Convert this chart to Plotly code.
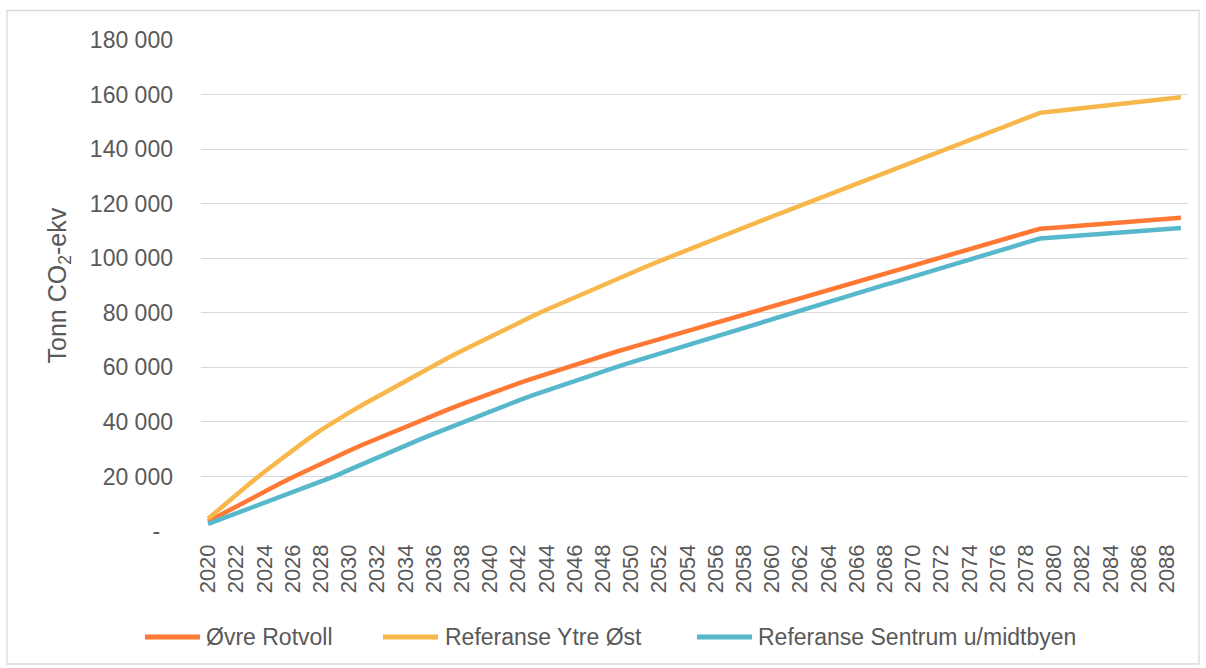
import plotly.graph_objects as go

# Years on the category axis
years = list(range(2020, 2090))

# Cumulative emissions, tonnes CO2-eq
ovre_rotvoll = [
    3500, 6300, 9100, 11800, 14500, 17100, 19700, 22200, 24700, 27100,
    29400, 31700, 33900, 36100, 38300, 40400, 42500, 44500, 46500, 48500,
    50400, 52300, 54100, 55900, 57600, 59300, 61000, 62600, 64200, 65800,
    67300, 68800, 70300, 71800, 73300, 74800, 76300, 77800, 79300, 80800,
    82300, 83800, 85300, 86800, 88300, 89800, 91300, 92800, 94300, 95800,
    97300, 98800, 100300, 101800, 103300, 104800, 106300, 107800, 109300, 110800,
    111200, 111600, 112000, 112400, 112800, 113200, 113600, 114000, 114400, 114800,
]
ref_ytre_ost = [
    4500, 9000, 13400, 17600, 21700, 25700, 29600, 33400, 37000, 40400,
    43400, 46400, 49300, 52200, 55100, 57900, 60700, 63400, 66100, 68700,
    71300, 73800, 76300, 78700, 81100, 83400, 85700, 88000, 90200, 92400,
    94600, 96800, 98900, 101000, 103100, 105200, 107300, 109300, 111300, 113300,
    115300, 117300, 119300, 121300, 123300, 125300, 127300, 129300, 131300, 133300,
    135300, 137300, 139300, 141300, 143300, 145300, 147300, 149300, 151300, 153300,
    153900, 154500, 155000, 155600, 156200, 156700, 157300, 157800, 158400, 159000,
]
ref_sentrum = [
    2600, 4500, 6500, 8400, 10400, 12300, 14300, 16200, 18200, 20100,
    22400, 24700, 26900, 29100, 31300, 33500, 35600, 37700, 39800, 41900,
    43900, 45900, 47800, 49700, 51500, 53300, 55100, 56800, 58500, 60200,
    61800, 63400, 65000, 66600, 68200, 69800, 71400, 73000, 74600, 76200,
    77800, 79300, 80900, 82400, 84000, 85500, 87100, 88600, 90200, 91700,
    93300, 94800, 96400, 97900, 99500, 101000, 102600, 104100, 105700, 107200,
    107600, 108000, 108400, 108800, 109200, 109500, 109900, 110300, 110700, 111100,
]

series_names = ["Øvre Rotvoll", "Referanse Ytre Øst", "Referanse Sentrum u/midtbyen"]
series_colors = ["#FF7834", "#F8B74A", "#57B7CB"]

# Axis ticks
x_tickvals = years[::2]
x_ticktext = [str(y) for y in x_tickvals]
y_tickvals = [0, 20000, 40000, 60000, 80000, 100000, 120000, 140000, 160000, 180000]
y_ticktext = ["-\u00a0\u00a0", "20 000", "40 000", "60 000", "80 000", "100 000",
              "120 000", "140 000", "160 000", "180 000"]

FONT = "Liberation Sans, Arial, sans-serif"
GREY_TXT = "#595959"
GRID = "#D9D9D9"

W, H = 1206, 668
ML, MR, MT, MB = 201, 18, 40, 137
PW, PH = W - ML - MR, H - MT - MB


def px_x(px):
    return (px - ML) / PW


def px_y(py):
    return (H - MB - py) / PH


fig = go.Figure()
for name, color, vals in zip(series_names, series_colors,
                             [ovre_rotvoll, ref_ytre_ost, ref_sentrum]):
    fig.add_trace(go.Scatter(
        x=years, y=vals, name=name, mode="lines",
        line=dict(color=color, width=4.5),
        showlegend=False,
    ))

fig.update_layout(
    width=W, height=H,
    margin=dict(l=ML, r=MR, t=MT, b=MB),
    paper_bgcolor="white", plot_bgcolor="white",
    font=dict(family=FONT, color=GREY_TXT, size=22),
    showlegend=False,
)

fig.update_xaxes(
    range=[2019.5, 2089.5],
    tickmode="array", tickvals=x_tickvals, ticktext=x_ticktext,
    tickangle=-90, tickfont=dict(size=22, color=GREY_TXT),
    showgrid=False, zeroline=False,
    showline=False, ticks="", ticklabelstandoff=8,
)
fig.update_yaxes(
    range=[0, 180000],
    tickmode="array", tickvals=y_tickvals, ticktext=y_ticktext,
    tickfont=dict(size=23, color=GREY_TXT),
    showgrid=True, gridcolor=GRID, gridwidth=1.3,
    zeroline=False, showline=False, ticks="", ticklabelstandoff=27,
)

# Axis title
fig.add_annotation(
    xref="paper", yref="paper", x=px_x(58), y=0.5,
    text="Tonn CO<sub>2</sub>-ekv", textangle=-90, showarrow=False,
    font=dict(family=FONT, size=25, color=GREY_TXT),
    xanchor="center", yanchor="middle",
)

# Legend row
legend_y = px_y(637)
legend_items = [(145, 200, 204), (383, 438, 443), (697, 752, 756)]
for (x0, x1, xt), name, color in zip(legend_items, series_names, series_colors):
    fig.add_shape(type="line", xref="paper", yref="paper",
                  x0=px_x(x0), x1=px_x(x1), y0=legend_y, y1=legend_y,
                  line=dict(color=color, width=5))
    fig.add_annotation(xref="paper", yref="paper", x=px_x(xt), y=legend_y,
                       text=name, showarrow=False, xanchor="left", yanchor="middle",
                       font=dict(family=FONT, size=23, color=GREY_TXT))

# Chart frame
fig.add_shape(type="rect", xref="paper", yref="paper",
              x0=px_x(7), x1=px_x(1199), y0=px_y(664), y1=px_y(10.5),
              line=dict(color="#D9D9D9", width=1.3), layer="below")

fig.write_html("out.html")
